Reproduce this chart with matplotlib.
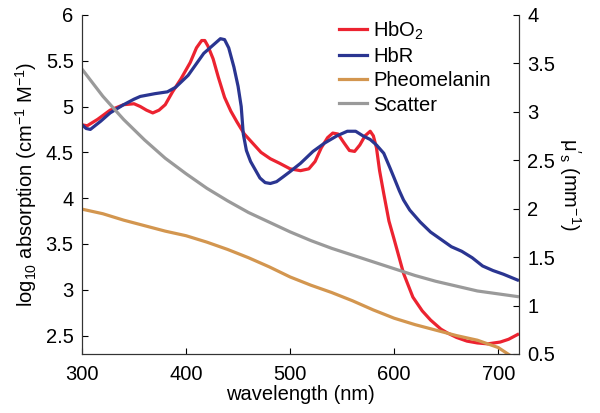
import matplotlib
matplotlib.use("Agg")
import matplotlib.pyplot as plt
from matplotlib.lines import Line2D

plt.rcParams['font.family'] = ['Liberation Sans', 'DejaVu Sans']
plt.rcParams['mathtext.fontset'] = 'custom'
plt.rcParams['mathtext.rm'] = 'Liberation Sans'
plt.rcParams['mathtext.it'] = 'Liberation Sans:italic'
plt.rcParams['mathtext.default'] = 'regular'

# ---- data ----
wl_hbo2 = [300, 305, 315, 327, 340, 350, 356, 362, 368, 374, 380, 387, 395, 404, 410, 415,
           418, 421, 426, 431, 437, 443, 449, 456, 464, 472, 481, 490, 500, 510, 518, 524,
           530, 536, 541, 546, 552, 557, 562, 567, 572, 577, 580, 583, 586, 590, 595, 600,
           609, 618, 627, 635, 645, 651, 660, 670, 680, 690, 702, 710, 720]
hbo2 = [4.80, 4.79, 4.86, 4.96, 5.02, 5.03, 5.00, 4.96, 4.93, 4.96, 5.02, 5.16, 5.30, 5.48, 5.64, 5.72,
        5.72, 5.66, 5.52, 5.32, 5.10, 4.95, 4.83, 4.70, 4.60, 4.50, 4.43, 4.38, 4.32, 4.30, 4.32, 4.40,
        4.55, 4.66, 4.71, 4.70, 4.60, 4.52, 4.51, 4.58, 4.68, 4.73, 4.68, 4.55, 4.30, 4.05, 3.75, 3.55,
        3.18, 2.92, 2.77, 2.67, 2.57, 2.53, 2.48, 2.44, 2.42, 2.41, 2.43, 2.46, 2.52]

wl_hbr = [300, 304, 308, 318, 327, 340, 350, 356, 370, 382, 390, 402, 417, 427, 433, 437,
          441, 446, 450, 453, 455, 458, 462, 467, 471, 476, 481, 487, 493, 500, 510, 522,
          533, 545, 555, 563, 570, 577, 583, 590, 596, 600, 605, 609, 615, 625, 635, 645,
          655, 665, 675, 685, 695, 705, 720]
hbr = [4.80, 4.76, 4.75, 4.84, 4.93, 5.02, 5.08, 5.11, 5.14, 5.16, 5.21, 5.34, 5.58, 5.68, 5.74, 5.73,
       5.64, 5.43, 5.22, 5.00, 4.70, 4.52, 4.40, 4.30, 4.22, 4.17, 4.16, 4.18, 4.23, 4.29, 4.38, 4.51,
       4.60, 4.68, 4.73, 4.73, 4.68, 4.64, 4.58, 4.49, 4.33, 4.22, 4.08, 3.98, 3.87, 3.74, 3.63, 3.55,
       3.47, 3.42, 3.35, 3.26, 3.21, 3.17, 3.10]

wl_grid = [300, 320, 340, 360, 380, 400, 420, 440, 460, 480, 500, 520, 540, 560, 580,
           600, 620, 640, 660, 680, 700, 720]
pheomelanin = [3.88, 3.83, 3.76, 3.70, 3.64, 3.59, 3.52, 3.44, 3.35, 3.25, 3.14, 3.05, 2.97,
               2.88, 2.78, 2.69, 2.62, 2.56, 2.50, 2.45, 2.37, 2.22]
scatter = [3.44, 3.16, 2.92, 2.71, 2.52, 2.36, 2.21, 2.08, 1.96, 1.86, 1.76, 1.67, 1.59,
           1.52, 1.45, 1.38, 1.31, 1.25, 1.20, 1.15, 1.12, 1.09]

labels = ['HbO$_2$', 'HbR', 'Pheomelanin', 'Scatter']
colors = ['#EC2330', '#2A3591', '#D3964F', '#9A9A9A']

xticks = [300, 400, 500, 600, 700]
lticks = [2.5, 3, 3.5, 4, 4.5, 5, 5.5, 6]
rticks = [0.5, 1, 1.5, 2, 2.5, 3, 3.5, 4]

# ---- figure ----
fig = plt.figure(figsize=(6.0, 4.13), dpi=100)
ax = fig.add_axes([0.1367, 0.143, 0.7283, 0.821])
ax2 = ax.twinx()

lw = 2.3
ax.plot(wl_hbo2, hbo2, color=colors[0], lw=lw, solid_capstyle='butt')
ax.plot(wl_hbr, hbr, color=colors[1], lw=lw, solid_capstyle='butt')
ax.plot(wl_grid, pheomelanin, color=colors[2], lw=lw, solid_capstyle='butt')
ax2.plot(wl_grid, scatter, color=colors[3], lw=lw, solid_capstyle='butt')

ax.set_xlim(300, 720)
ax.set_ylim(2.3, 6)
ax2.set_ylim(0.5, 4)

ax.set_xticks(xticks)
ax.set_yticks(lticks)
ax.set_yticklabels([f'{t:g}' for t in lticks])
ax2.set_yticks(rticks)
ax2.set_yticklabels([f'{t:g}' for t in rticks])

fs = 14.5
for a in (ax, ax2):
    a.tick_params(direction='in', length=4, width=0.8, labelsize=fs, colors='black')
    a.spines['top'].set_visible(False)
    for s in a.spines.values():
        s.set_linewidth(0.8)
        s.set_color('#333333')
ax.tick_params(axis='x', pad=8)
ax.tick_params(axis='y', pad=6)
ax2.tick_params(axis='y', pad=6)

ax.set_xlabel('wavelength (nm)', fontsize=fs, labelpad=1)
ax.set_ylabel(r'log$_{10}$ absorption (cm$^{-1}$ M$^{-1}$)', fontsize=fs, labelpad=5)
ax2.set_ylabel(r"$\mu'_s$ (mm$^{-1}$)", fontsize=fs, rotation=270, labelpad=20)

handles = [Line2D([], [], color=c, lw=lw) for c in colors]
leg = ax2.legend(handles, labels, loc='upper left', bbox_to_anchor=(0.57, 1.01),
                 frameon=False, fontsize=fs, handlelength=1.4, handletextpad=0.3,
                 labelspacing=0.26, borderaxespad=0)

fig.savefig('out.png', dpi=100)
